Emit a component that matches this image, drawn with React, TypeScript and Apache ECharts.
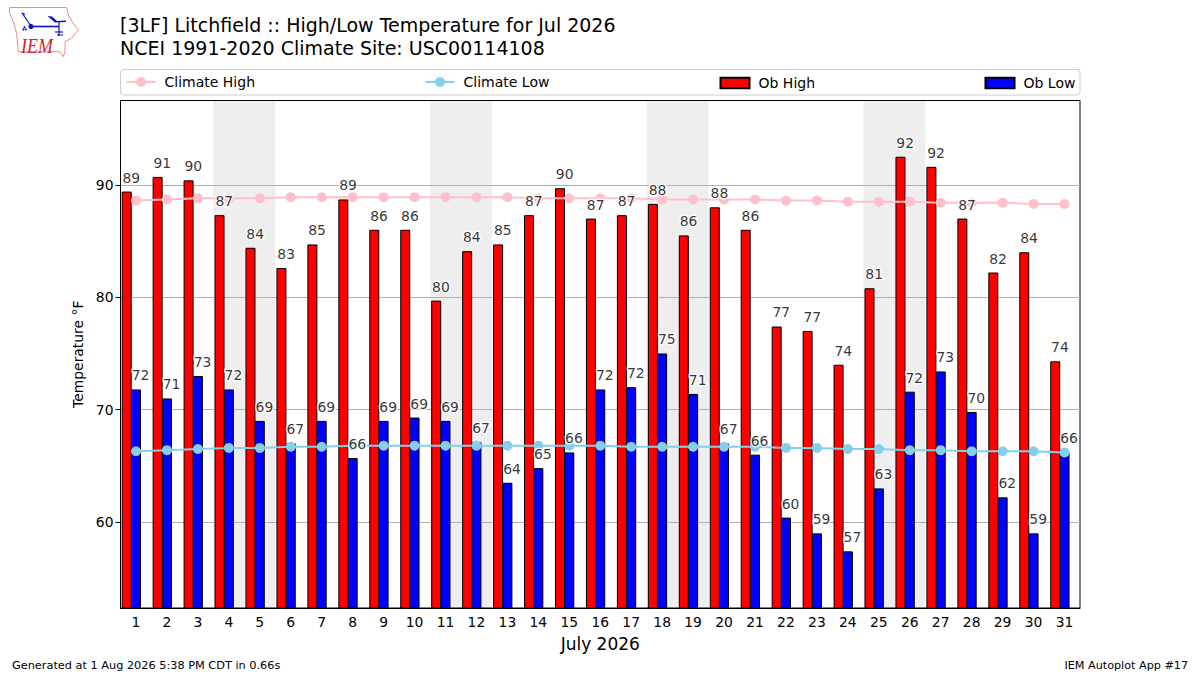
import React, { useEffect, useRef } from 'react';
import * as echarts from 'echarts';

const days = ['1','2','3','4','5','6','7','8','9','10','11','12','13','14','15','16','17','18','19','20','21','22','23','24','25','26','27','28','29','30','31'];
const obHigh = [89.4,90.7,90.4,87.3,84.4,82.6,84.7,88.7,86,86,79.7,84.1,84.7,87.3,89.7,87,87.3,88.3,85.5,88,86,77.4,77,74,80.8,92.5,91.6,87,82.2,84,74.3];
const obLow = [71.8,71,73,71.8,69,67,69,65.7,69,69.3,69,67.1,63.5,64.8,66.2,71.8,72,75,71.4,67,66,60.4,59,57.4,63,71.6,73.4,69.8,62.2,59,66.2];
const obHighLabels = [89,91,90,87,84,83,85,89,86,86,80,84,85,87,90,87,87,88,86,88,86,77,77,74,81,92,92,87,82,84,74];
const obLowLabels = [72,71,73,72,69,67,69,66,69,69,69,67,64,65,66,72,72,75,71,67,66,60,59,57,63,72,73,70,62,59,66];
const climateHigh = [88.6,88.7,88.8,88.8,88.8,88.9,88.9,88.9,88.9,88.9,88.9,88.9,88.9,88.8,88.8,88.8,88.8,88.7,88.7,88.7,88.7,88.6,88.6,88.5,88.5,88.5,88.4,88.4,88.4,88.3,88.3];
const climateLow = [66.3,66.4,66.5,66.6,66.6,66.7,66.7,66.8,66.8,66.8,66.8,66.8,66.8,66.8,66.8,66.8,66.7,66.7,66.7,66.7,66.7,66.6,66.6,66.5,66.5,66.4,66.4,66.3,66.3,66.3,66.2];
const yTicks = [60, 70, 80, 90];
const weekends = [[3.5, 5.5], [10.5, 12.5], [17.5, 19.5], [24.5, 26.5]];

const FONT = '"DejaVu Sans", sans-serif';
const LOGO_RED = '#ee8a8a';
const LOGO_BLUE = '#1010c8';

const App: React.FC = () => {
  const chartRef = useRef<HTMLDivElement>(null);

  useEffect(() => {
    if (!chartRef.current) return;
    const chart = echarts.init(chartRef.current, undefined, { renderer: 'svg' });

    const legendItem = (name: string, left: number, top: number, itemHeight: number, icon?: string) => ({
      data: [name],
      left,
      top,
      itemWidth: 29,
      itemHeight,
      padding: 0,
      icon,
      selectedMode: false,
      textStyle: { fontFamily: FONT, fontSize: 14, color: '#000', padding: [0, 0, 0, 4] }
    });

    // labels sit in their own series so they stay above the climate lines
    const labelSeries = (name: string, values: number[], labels: number[], dx: number) => ({
      name,
      type: 'scatter',
      data: values,
      symbolSize: 0,
      silent: true,
      z: 6,
      label: {
        show: true,
        position: 'top',
        offset: [dx, -2],
        fontFamily: FONT,
        fontSize: 13.9,
        color: '#000',
        textBorderColor: '#fff',
        textBorderWidth: 3,
        formatter: (p: any) => String(labels[p.dataIndex])
      }
    });

    const logoLine = (points: number[][], lineWidth: number) => ({
      type: 'polyline',
      silent: true,
      shape: { points },
      style: { stroke: LOGO_BLUE, fill: 'none', lineWidth }
    });

    const options: any = {
      animation: false,
      backgroundColor: '#fff',
      textStyle: { fontFamily: FONT },
      title: {
        text: '[3LF] Litchfield :: High/Low Temperature for Jul 2026\nNCEI 1991-2020 Climate Site: USC00114108',
        left: 120,
        top: 13,
        padding: 0,
        textStyle: { fontFamily: FONT, fontSize: 19, fontWeight: 'normal', color: '#000', lineHeight: 23.5 }
      },
      legend: [
        legendItem('Climate High', 125.5, 75, 12.5),
        legendItem('Climate Low', 424.5, 75, 12.5),
        legendItem('Ob High', 719.5, 76, 10.5, 'rect'),
        legendItem('Ob Low', 984.5, 76, 10.5, 'rect')
      ],
      grid: { left: 120.5, right: 120, top: 100.5, bottom: 67, show: true, borderColor: '#000', borderWidth: 1, backgroundColor: 'transparent' },
      xAxis: [
        {
          type: 'category',
          data: days,
          name: 'July 2026',
          nameLocation: 'middle',
          nameGap: 27,
          nameTextStyle: { fontFamily: FONT, fontSize: 17, color: '#000' },
          axisLine: { lineStyle: { color: '#000' } },
          axisTick: { alignWithLabel: true, length: 5, lineStyle: { color: '#000' } },
          axisLabel: { fontFamily: FONT, fontSize: 13.9, color: '#000', margin: 7, interval: 0 }
        },
        { type: 'value', min: 0.5, max: 31.5, show: false }
      ],
      yAxis: {
        type: 'value',
        min: 52.36,
        max: 97.5,
        name: 'Temperature °F',
        nameLocation: 'middle',
        nameGap: 35,
        nameTextStyle: { fontFamily: FONT, fontSize: 13.9, color: '#000' },
        axisLine: { show: true, lineStyle: { color: '#000' } },
        axisTick: { show: true, length: 5, customValues: yTicks, lineStyle: { color: '#000' } },
        axisLabel: { fontFamily: FONT, fontSize: 13.9, color: '#000', margin: 7, customValues: yTicks },
        splitLine: { show: true, lineStyle: { color: '#b0b0b0', width: 1 } }
      },
      series: [
        {
          name: 'weekends',
          type: 'line',
          xAxisIndex: 1,
          data: [],
          silent: true,
          z: 0,
          markArea: {
            silent: true,
            z: -1,
            itemStyle: { color: '#eeeeee' },
            data: weekends.map(w => [{ xAxis: w[0] }, { xAxis: w[1] }])
          }
        },
        {
          name: 'Ob High',
          type: 'bar',
          data: obHigh,
          barWidth: 10,
          barGap: '-7%',
          itemStyle: { color: '#ff0000', borderColor: '#000', borderWidth: 1 },
          z: 3
        },
        {
          name: 'Ob Low',
          type: 'bar',
          data: obLow,
          barWidth: 10,
          barGap: '-7%',
          itemStyle: { color: '#0000ff', borderColor: '#000', borderWidth: 1 },
          z: 3
        },
        // empty third slot, keeps the blue bar centred on its tick
        { name: 'spacer', type: 'bar', data: [], barWidth: 10, barGap: '-7%' },
        {
          name: 'Climate High',
          type: 'line',
          data: climateHigh,
          symbol: 'circle',
          symbolSize: 10,
          lineStyle: { color: '#ffc0cb', width: 2 },
          itemStyle: { color: '#ffc0cb' },
          z: 4
        },
        {
          name: 'Climate Low',
          type: 'line',
          data: climateLow,
          symbol: 'circle',
          symbolSize: 10,
          lineStyle: { color: '#87ceeb', width: 2 },
          itemStyle: { color: '#87ceeb' },
          z: 4
        },
        labelSeries('Ob High labels', obHigh, obHighLabels, -4.6),
        labelSeries('Ob Low labels', obLow, obLowLabels, 4.6)
      ],
      graphic: [
        { type: 'rect', silent: true, shape: { x: 120.5, y: 69.5, width: 959.5, height: 25.5, r: 3 }, style: { fill: 'transparent', stroke: '#cccccc', lineWidth: 1 } },
        { type: 'text', left: 12, top: 660, style: { text: 'Generated at 1 Aug 2026 5:38 PM CDT in 0.66s', fontFamily: FONT, fontSize: 11.3, fill: '#000' } },
        { type: 'text', right: 12, top: 660, style: { text: 'IEM Autoplot App #17', fontFamily: FONT, fontSize: 11.2, fill: '#000' } },
        // IEM logo
        {
          type: 'polygon',
          silent: true,
          shape: { points: [[9.5,7.5],[66.7,7.5],[68.3,15],[73,23],[78.3,30],[71.7,38.3],[65,41.7],[65,51.7],[63.3,56.7],[60,51.7],[18.3,51.7],[16.7,33.3],[13.3,21.7],[9.5,13.3]] },
          style: { fill: '#fff', stroke: LOGO_RED, lineWidth: 1 }
        },
        logoLine([[22,13],[31,26]], 1.2),
        logoLine([[22,13],[25,14.5]], 1.2),
        logoLine([[31,26.5],[59,26.5]], 1.6),
        logoLine([[59,22],[59,36]], 1.2),
        logoLine([[55,32],[63,32]], 1.2),
        logoLine([[57,35],[63,35]], 1),
        {
          type: 'polygon',
          silent: true,
          shape: { points: [[47.5,16],[52,16.5],[57,21],[66,20.5],[66,22],[55,22.5]] },
          style: { fill: LOGO_BLUE }
        },
        { type: 'circle', silent: true, shape: { cx: 31, cy: 26.5, r: 2.6 }, style: { fill: LOGO_BLUE } },
        { type: 'circle', silent: true, shape: { cx: 23.3, cy: 29.5, r: 1 }, style: { fill: LOGO_BLUE } },
        { type: 'circle', silent: true, shape: { cx: 25.7, cy: 29.5, r: 1 }, style: { fill: LOGO_BLUE } },
        { type: 'circle', silent: true, shape: { cx: 24.4, cy: 27.3, r: 1 }, style: { fill: LOGO_BLUE } },
        {
          type: 'text',
          silent: true,
          x: 21,
          y: 35,
          scaleY: 1.2,
          style: { text: 'IEM', fontFamily: '"Liberation Serif", serif', fontStyle: 'italic', fontSize: 18, fill: '#d8232a' }
        }
      ]
    };

    chart.setOption(options);

    return () => {
      chart.dispose();
    };
  }, []);

  return <div ref={chartRef} style={{ position: 'absolute', left: 0, top: 0, width: 1200, height: 675 }} />;
};

export default App;
